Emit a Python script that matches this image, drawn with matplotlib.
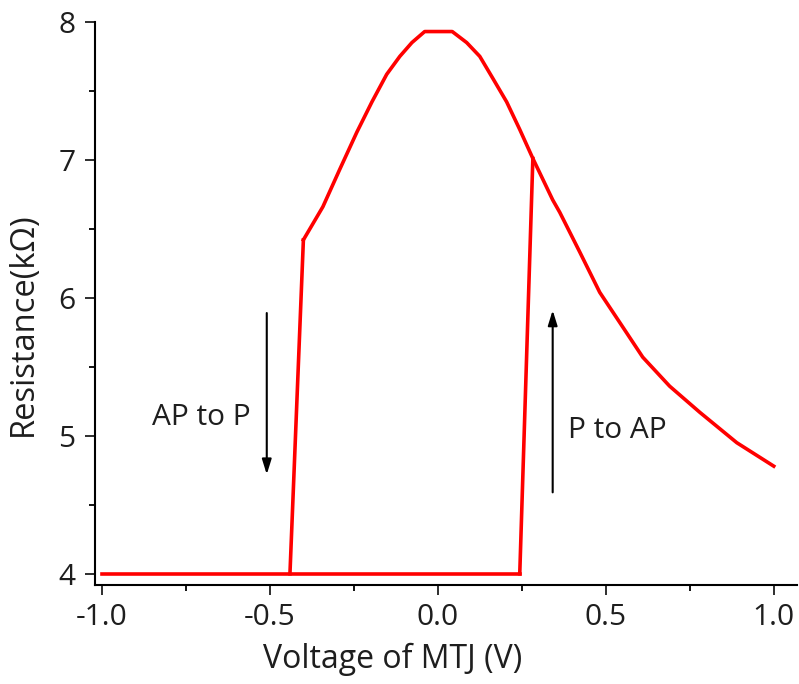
import matplotlib.pyplot as plt
from matplotlib.ticker import MultipleLocator

plt.rcParams['font.family'] = ['Open Sans', 'DejaVu Sans']

# low (parallel) state
low_v = [-1.0, 0.244]
low_r = [4.0, 4.0]

# switching jumps
ap_to_p_v = [-0.44, -0.40]
ap_to_p_r = [4.0, 6.42]
p_to_ap_v = [0.244, 0.283]
p_to_ap_r = [4.0, 7.01]

# high (anti-parallel) state
high_v = [-0.40, -0.342, -0.292, -0.241, -0.196, -0.152, -0.113, -0.077,
          -0.039, 0.043, 0.086, 0.125, 0.164, 0.205, 0.244, 0.283, 0.342,
          0.363, 0.423, 0.482, 0.542, 0.610, 0.690, 0.780, 0.890, 1.0]
high_r = [6.42, 6.66, 6.93, 7.20, 7.42, 7.62, 7.75, 7.85,
          7.93, 7.93, 7.85, 7.75, 7.59, 7.42, 7.22, 7.01, 6.71,
          6.62, 6.33, 6.04, 5.82, 5.57, 5.36, 5.17, 4.95, 4.78]

fig = plt.figure(figsize=(7.99, 6.84), dpi=100)
ax = fig.add_axes([0.119, 0.145, 0.878, 0.823])

red = '#ff0000'
lw = 2.6
ax.plot(low_v, low_r, color=red, lw=lw, solid_joinstyle='round')
ax.plot(ap_to_p_v, ap_to_p_r, color=red, lw=lw, solid_joinstyle='round')
ax.plot(p_to_ap_v, p_to_ap_r, color=red, lw=lw, solid_joinstyle='round')
ax.plot(high_v, high_r, color=red, lw=lw, solid_joinstyle='round')

# arrows + labels
arr = dict(arrowstyle='-|>,head_length=0.9,head_width=0.28', color='black', lw=1.5)
ax.annotate('', xy=(-0.509, 4.70), xytext=(-0.509, 5.91), arrowprops=arr)
ax.annotate('', xy=(0.342, 5.93), xytext=(0.342, 4.57), arrowprops=arr)
txt = '#1e1e1e'
ax.text(-0.705, 5.13, 'AP to P', fontsize=21.5, ha='center', va='center', color=txt)
ax.text(0.533, 5.04, 'P to AP', fontsize=21.5, ha='center', va='center', color=txt)

ax.set_xlim(-1.02, 1.068)
ax.set_ylim(3.92, 8.0)
ax.xaxis.set_minor_locator(MultipleLocator(0.25))
ax.yaxis.set_minor_locator(MultipleLocator(0.5))
ax.set_xticks([-1.0, -0.5, 0.0, 0.5, 1.0])
ax.set_xticklabels(['-1.0', '-0.5', '0.0', '0.5', '1.0'])
ax.set_yticks([4, 5, 6, 7, 8])
ax.set_yticklabels(['4', '5', '6', '7', '8'])

for s in ['top', 'right']:
    ax.spines[s].set_visible(False)
for s in ['left', 'bottom']:
    ax.spines[s].set_linewidth(1.5)
ax.tick_params(which='major', length=7, width=1.3, labelsize=21.5, colors=txt)
ax.tick_params(which='minor', length=4, width=1.3)
ax.tick_params(axis='x', pad=6)
ax.tick_params(axis='y', pad=7)

ax.set_xlabel('Voltage of MTJ (V)', fontsize=23, color=txt)
ax.set_ylabel('Resistance(k\u03a9)', fontsize=23.5, color=txt)
ax.xaxis.set_label_coords(0.4245, -0.103)
ax.yaxis.set_label_coords(-0.078, 0.4636)

fig.savefig('out.png', dpi=100)
